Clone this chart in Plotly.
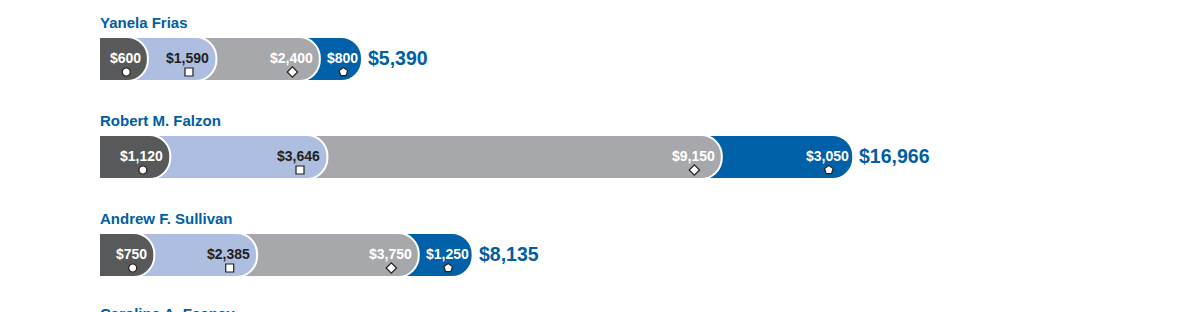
import plotly.graph_objects as go

# ---------------- data ----------------
names = ["Yanela Frias", "Robert M. Falzon", "Andrew F. Sullivan"]
next_name = "Caroline A. Feeney"
seg1 = [600, 1120, 750]
seg2 = [1590, 3646, 2385]
seg3 = [2400, 9150, 3750]
seg4 = [800, 3050, 1250]
totals = [5390, 16966, 8135]

# ---------------- styles ----------------
colors = ["#58595b", "#adbee0", "#a7a8ab", "#0060a8"]
label_colors = ["#ffffff", "#231f20", "#ffffff", "#ffffff"]
symbols = ["circle", "square", "diamond", "pentagon"]
marker_sizes = [8, 8, 8, 9]
blue = "#005ea2"
FONT = "Liberation Sans, Arial, sans-serif"

W, H = 1200, 312
K = 0.0431          # px per dollar
X0_PX = 122         # pixel position of $0
LEFT_PX = 100       # pixel of bar left edge
ROW_PX = 98         # px between rows
ROW0_PX = 59        # px of first bar centre
BAR_PX = 44

def px2dx(p):
    return p / K

def text_w(s, size=14):
    w = 0
    for ch in s:
        w += 0.278 if ch in ",." else 0.556
    return w * size

segs = [seg1, seg2, seg3, seg4]
n = len(names)
base = -px2dx(X0_PX - LEFT_PX)

# segment ends (data units) with minimum visible width for labels
ends = []
for r in range(n):
    row_ends = []
    cum = 0
    prev = base
    for s in range(4):
        v = segs[s][r]
        cum += v
        lab = f"${v:,}"
        e = max(cum, prev + px2dx(text_w(lab) + 11))
        row_ends.append(e)
        prev = e
    ends.append(row_ends)

fig = go.Figure()

# bars: draw last segment first so earlier segments are on top
for s in [3, 2, 1, 0]:
    fig.add_trace(go.Bar(
        orientation="h",
        y=list(range(n)),
        x=[ends[r][s] - base for r in range(n)],
        base=[base] * n,
        width=BAR_PX / ROW_PX,
        marker=dict(color=colors[s], line=dict(color="white", width=2), cornerradius=21),
        hoverinfo="skip",
        showlegend=False,
    ))

# square left edge of the first segment
fig.add_trace(go.Bar(
    orientation="h",
    y=list(range(n)),
    x=[px2dx(26)] * n,
    base=[base] * n,
    width=(BAR_PX - 2) / ROW_PX,
    marker=dict(color=colors[0], line=dict(width=0)),
    hoverinfo="skip",
    showlegend=False,
))

annotations = []
for s in range(4):
    mx, my = [], []
    for r in range(n):
        v = segs[s][r]
        lab = f"${v:,}"
        pad = 3 if s == 3 else 6
        annotations.append(dict(
            x=ends[r][s], y=r, xref="x", yref="y", text=lab, showarrow=False,
            xanchor="right", yanchor="middle", xshift=-pad + 1, yshift=1,
            font=dict(family=FONT, size=14, color=label_colors[s], weight="bold"),
        ))
        mx.append(ends[r][s] - px2dx(pad + text_w(lab) / 2))
        my.append(r + 13 / ROW_PX)
    fig.add_trace(go.Scatter(
        x=mx, y=my, mode="markers",
        marker=dict(symbol=symbols[s], size=marker_sizes[s], color="white",
                    line=dict(color="#231f20", width=1.2)),
        hoverinfo="skip", showlegend=False,
    ))

for r in range(n):
    annotations.append(dict(
        x=ends[r][3], y=r, xref="x", yref="y", text=f"${totals[r]:,}", showarrow=False,
        xanchor="left", yanchor="middle", xshift=4, yshift=1,
        font=dict(family=FONT, size=19.5, color=blue, weight="bold"),
    ))

for r, nm in enumerate(names):
    annotations.append(dict(
        x=base, y=r - 37 / ROW_PX, xref="x", yref="y", text=nm, showarrow=False,
        xanchor="left", yanchor="middle", xshift=-2,
        font=dict(family=FONT, size=15, color=blue, weight="bold"),
    ))

# next row's name, cut off by the bottom edge (as in the original)
annotations.append(dict(
    x=base, y=(H - 9 - ROW0_PX) / ROW_PX, xref="x", yref="y", text=next_name, showarrow=False,
    xanchor="left", yanchor="top", xshift=-2,
    font=dict(family=FONT, size=15, color=blue, weight="bold"),
))

x_lo = -px2dx(X0_PX)
x_hi = px2dx(W - X0_PX)
y_top = -ROW0_PX / ROW_PX
y_bot = (H - ROW0_PX) / ROW_PX

fig.update_layout(
    width=W, height=H,
    margin=dict(l=0, r=0, t=0, b=0),
    barmode="overlay",
    paper_bgcolor="white", plot_bgcolor="white",
    xaxis=dict(range=[x_lo, x_hi], visible=False, fixedrange=True),
    yaxis=dict(range=[y_bot, y_top], visible=False, fixedrange=True),
    annotations=annotations,
    showlegend=False,
)

fig.write_html("out.html", config={"displayModeBar": False})
